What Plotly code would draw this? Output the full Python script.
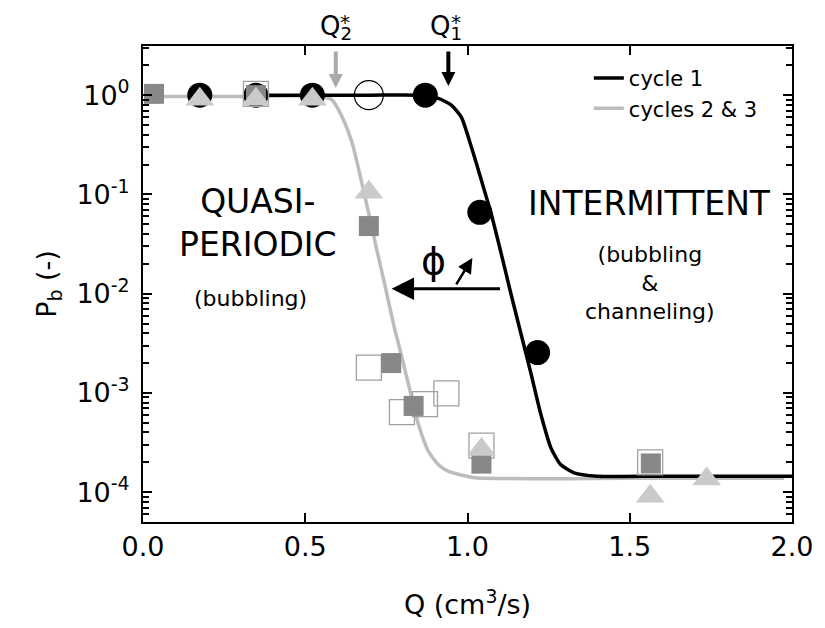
import plotly.graph_objects as go

# ---------------- data ----------------
# fitted curves
cycle1_x = [0.368, 0.5, 0.7, 0.849, 0.91, 0.951, 0.981, 1.012, 1.043, 1.073, 1.104, 1.134,
            1.165, 1.196, 1.226, 1.257, 1.287, 1.328, 1.40, 1.6, 2.0]
cycle1_y = [1.0, 1.0, 1.0, 1.0, 0.926, 0.79, 0.60, 0.30, 0.138, 0.0638, 0.0252, 0.00993,
            0.00392, 0.00155, 0.00061, 0.00028, 0.00019, 0.000157, 0.000145, 0.000145, 0.000145]

cycle23_x = [0.03, 0.3, 0.553, 0.583, 0.614, 0.645, 0.670, 0.696, 0.721, 0.747, 0.772, 0.798,
             0.823, 0.849, 0.879, 0.910, 0.940, 1.017, 1.5, 1.976]
cycle23_y = [0.97, 0.97, 0.97, 0.89, 0.60, 0.325, 0.150, 0.0638, 0.0272, 0.0116, 0.00494, 0.00227,
             0.00105, 0.00048, 0.00026, 0.00019, 0.000163, 0.000141, 0.000138, 0.000138]

# measured points
black_circ_x = [0.175, 0.348, 0.522, 0.870, 1.038, 1.216]
black_circ_y = [1.0, 1.0, 1.0, 1.0, 0.066, 0.00255]

open_circ_x = [0.696]
open_circ_y = [1.0]

open_sq_x = [0.348, 0.696, 0.798, 0.869, 0.935, 1.043, 1.563]
open_sq_y = [1.03, 0.0018, 0.00064, 0.00077, 0.00099, 0.000295, 0.0002]

filled_sq_x = [0.034, 0.348, 0.696, 0.765, 0.834, 1.043, 1.565]
filled_sq_y = [1.03, 1.0, 0.048, 0.0020, 0.00074, 0.000194, 0.000195]

tri_x = [0.175, 0.348, 0.522, 0.696, 1.043, 1.563, 1.737]
tri_y = [0.91, 0.91, 0.91, 0.105, 0.00027, 0.000091, 0.000136]

x_ticks = [0.0, 0.5, 1.0, 1.5, 2.0]
x_ticktext = ["0.0", "0.5", "1.0", "1.5", "2.0"]
y_ticks = [1e-4, 1e-3, 1e-2, 1e-1, 1]
y_ticktext = ["10<sup>-4</sup>", "10<sup>-3</sup>", "10<sup>-2</sup>", "10<sup>-1</sup>", "10<sup>0</sup>"]
y_minor_ticks = [m * 10.0 ** k for k in range(-5, 1) for m in range(2, 10)]

Y_RANGE = [-4.30, 0.495]

# ---------------- figure ----------------
FONT = "DejaVu Sans"
fig = go.Figure()

fig.add_trace(go.Scatter(x=cycle23_x, y=cycle23_y, mode="lines", name="cycles 2 & 3",
                         line=dict(color="#bcbcbc", width=3.5, shape="spline", smoothing=0.6)))
fig.add_trace(go.Scatter(x=cycle1_x, y=cycle1_y, mode="lines", name="cycle 1",
                         line=dict(color="black", width=3.5, shape="spline", smoothing=0.6)))
fig.add_trace(go.Scatter(x=black_circ_x, y=black_circ_y, mode="markers", showlegend=False,
                         marker=dict(symbol="circle", size=25, color="black")))
fig.add_trace(go.Scatter(x=open_circ_x, y=open_circ_y, mode="markers", showlegend=False,
                         marker=dict(symbol="circle-open", size=29, color="black",
                                     line=dict(width=1.2, color="black"))))
fig.add_trace(go.Scatter(x=open_sq_x, y=open_sq_y, mode="markers", showlegend=False,
                         marker=dict(symbol="square-open", size=25, color="#a0a0a0",
                                     line=dict(width=1.3, color="#a0a0a0"))))
fig.add_trace(go.Scatter(x=filled_sq_x, y=filled_sq_y, mode="markers", showlegend=False,
                         marker=dict(symbol="square", size=20, color="#888888")))
fig.add_trace(go.Scatter(x=tri_x, y=tri_y, mode="markers", showlegend=False,
                         marker=dict(symbol="triangle-up", size=25, color="#cacaca")))

annotations = [
    dict(x=0.353, y=-1.283, xref="x", yref="y", text="QUASI-<br>PERIODIC", showarrow=False,
         font=dict(size=33, family=FONT, color="black")),
    dict(x=0.331, y=-2.05, xref="x", yref="y", text="(bubbling)", showarrow=False,
         font=dict(size=22, family=FONT, color="black")),
    dict(x=1.562, y=-1.091, xref="x", yref="y", text="INTERMITTENT", showarrow=False,
         font=dict(size=33, family=FONT, color="black")),
    dict(x=1.562, y=-1.889, xref="x", yref="y", text="(bubbling<br>&<br>channeling)", showarrow=False,
         font=dict(size=22, family=FONT, color="black")),
    dict(x=0.895, y=-1.67, xref="x", yref="y", text="ϕ", showarrow=False,
         font=dict(size=38, family=FONT, color="black")),
    # big phi arrow
    dict(x=0.766, y=-1.95, xref="x", yref="y", ax=110, ay=0, text="", showarrow=True,
         arrowhead=2, arrowsize=1.5, arrowwidth=3, arrowcolor="black"),
    # small phi arrow
    dict(x=1.015, y=-1.64, xref="x", yref="y", ax=-17, ay=28, text="", showarrow=True,
         arrowhead=2, arrowsize=1.2, arrowwidth=2.5, arrowcolor="black"),
    # Q2* marker
    dict(x=0.594, y=0.912, xref="x", yref="paper", ax=0, ay=-38, text="", showarrow=True,
         arrowhead=2, arrowsize=0.7, arrowwidth=4, arrowcolor="#aaaaaa"),
    dict(x=0.594, y=1.078, xref="x", yref="paper", text="Q<sub>2</sub>", showarrow=False,
         font=dict(size=26, family=FONT, color="black")),
    dict(x=0.624, y=1.0795, xref="x", yref="paper", yanchor="top", text="*", showarrow=False,
         font=dict(size=20, family=FONT, color="black")),
    # Q1* marker
    dict(x=0.941, y=0.916, xref="x", yref="paper", ax=0, ay=-36, text="", showarrow=True,
         arrowhead=2, arrowsize=0.7, arrowwidth=4, arrowcolor="black"),
    dict(x=0.935, y=1.078, xref="x", yref="paper", text="Q<sub>1</sub>", showarrow=False,
         font=dict(size=26, family=FONT, color="black")),
    dict(x=0.966, y=1.0795, xref="x", yref="paper", yanchor="top", text="*", showarrow=False,
         font=dict(size=20, family=FONT, color="black")),
]

# page body has an 8px margin: shrink figure so that the plot area lands where the reference has it
fig.update_layout(
    width=817, height=620,
    margin=dict(l=135, r=29, t=38, b=106),
    paper_bgcolor="white", plot_bgcolor="white",
    font=dict(family=FONT, color="black"),
    annotations=annotations,
    legend=dict(x=0.687, y=0.975, xanchor="left", yanchor="top",
                font=dict(size=21, family=FONT, color="black"),
                bgcolor="rgba(0,0,0,0)", traceorder="reversed"),
    xaxis=dict(range=[0, 2], tickvals=x_ticks, ticktext=x_ticktext,
               ticks="inside", ticklen=9, tickwidth=2, tickcolor="black",
               showline=True, linewidth=2, linecolor="black", mirror="allticks",
               showgrid=False, zeroline=False,
               tickfont=dict(size=27, family=FONT, color="black"),
               title=dict(text="Q (cm<sup>3</sup>/s)", font=dict(size=27, family=FONT, color="black"),
                          standoff=34)),
    yaxis=dict(type="log", range=Y_RANGE, tickmode="array", tickvals=y_ticks, ticktext=y_ticktext,
               ticks="inside", ticklen=9, tickwidth=2, tickcolor="black",
               minor=dict(tickmode="array", tickvals=y_minor_ticks, ticks="inside",
                          ticklen=6, tickwidth=1.5, tickcolor="black", showgrid=False),
               showline=True, linewidth=2, linecolor="black", mirror="allticks",
               showgrid=False, zeroline=False, ticklabelstandoff=6,
               tickfont=dict(size=27, family=FONT, color="black"),
               title=dict(text="P<sub>b</sub> (-)", font=dict(size=27, family=FONT, color="black"),
                          standoff=12)),
)

fig.write_html("out.html")
